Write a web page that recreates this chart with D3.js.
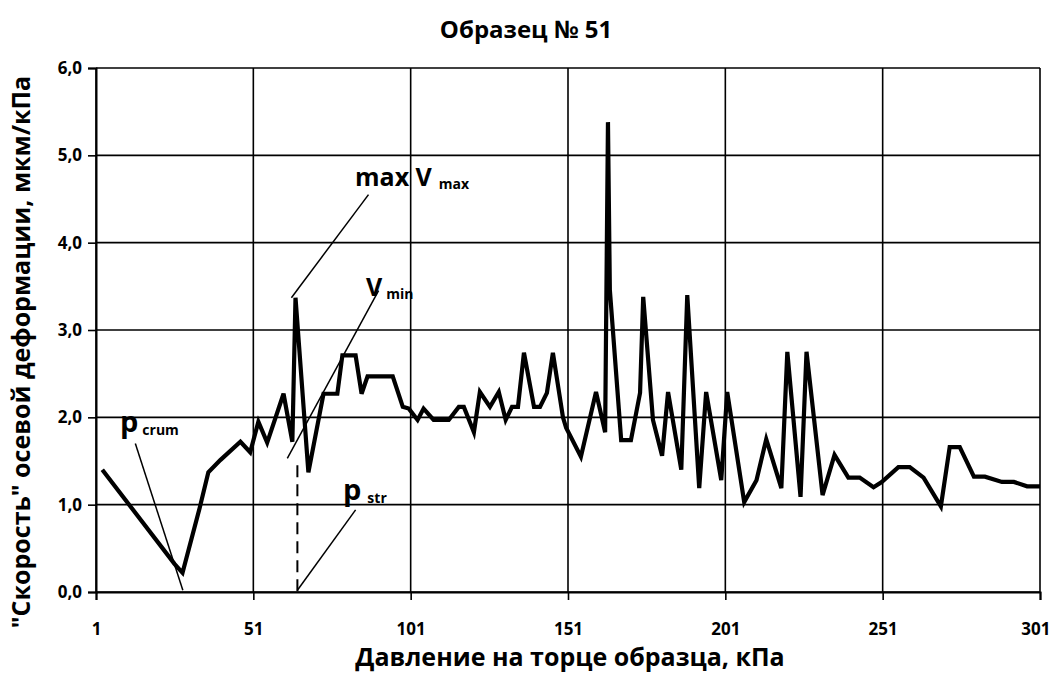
<!DOCTYPE html>
<html>
<head>
<meta charset="utf-8">
<script src="https://cdn.jsdelivr.net/npm/d3@7"></script>
<style>
  body { margin: 0; background: #fff; }
  text { font-family: "Open Sans", sans-serif; font-weight: bold; fill: #000; }
</style>
</head>
<body>
<svg id="chart" width="1052" height="675"></svg>
<script>
// pressure on sample end, kPa
var pressure = [3, 26, 28.5, 34, 36.7, 40.5, 46.9, 50, 52.6, 55.4,
    60.6, 63.4, 64.4, 68.5, 73.3, 77.7, 79.3, 83.5, 85.4, 87.3,
    95.3, 98.5, 100.4, 103.2, 105.1, 108.3, 113.1, 116.3, 117.9, 121.1,
    123, 126.2, 129, 131.2, 133.2, 135.1, 137, 140.2, 142.1, 144.3,
    146.2, 149.4, 150.4, 155.1, 159.9, 162.8, 163.7, 164.3, 167.9, 171,
    173.9, 174.9, 178, 180.9, 182.8, 187, 188.9, 192.7, 194.9, 199.7,
    201.6, 207, 210.9, 214, 218.8, 220.7, 224.9, 226.8, 231.9, 235.7,
    240.1, 243.7, 248.1, 250.7, 256, 259.6, 264, 269.5, 272.3, 275.5,
    280, 283.5, 288.9, 292.7, 296.9, 301];
// "speed" of axial deformation, mkm/kPa
var speed = [1.4, 0.32, 0.22, 0.97, 1.37, 1.51, 1.72, 1.6, 1.95, 1.71,
    2.27, 1.72, 3.37, 1.37, 2.27, 2.27, 2.71, 2.71, 2.27, 2.47,
    2.47, 2.12, 2.1, 1.97, 2.1, 1.97, 1.97, 2.12, 2.12, 1.83,
    2.29, 2.12, 2.29, 1.97, 2.12, 2.12, 2.74, 2.12, 2.12, 2.28,
    2.74, 2.0, 1.88, 1.55, 2.29, 1.83, 5.38, 3.46, 1.74, 1.74,
    2.28, 3.38, 1.97, 1.56, 2.29, 1.4, 3.4, 1.19, 2.29, 1.28,
    2.29, 1.03, 1.28, 1.75, 1.19, 2.75, 1.09, 2.75, 1.11, 1.57,
    1.31, 1.31, 1.2, 1.26, 1.43, 1.43, 1.31, 0.98, 1.66, 1.66,
    1.32, 1.32, 1.26, 1.26, 1.21, 1.21];

var xTicks = [1, 51, 101, 151, 201, 251, 301];
var yTicks = [0, 1, 2, 3, 4, 5, 6];

// leader lines for the annotations, in data units [x1, y1, x2, y2]
var leaderMax = [63.1, 3.37, 87.6, 4.55];
var leaderMin = [61.8, 1.53, 90.8, 3.45];
var leaderCrum = [13.5, 1.70, 28.6, 0.02];
var leaderStr = [65, 0.02, 83.5, 0.94];
var dashStr = [65, 1.45, 65, 0];

var svg = d3.select("#chart");
var margin = {left: 96, right: 12, top: 68, bottom: 83};
var width = 1052 - margin.left - margin.right;
var height = 675 - margin.top - margin.bottom;

var x = d3.scaleLinear().domain([1, 301]).range([0, width]);
var y = d3.scaleLinear().domain([0, 6]).range([height, 0]);

var g = svg.append("g")
    .attr("transform", "translate(" + margin.left + "," + margin.top + ")");

// grid
g.append("g").selectAll("line").data(yTicks).enter().append("line")
    .attr("x1", 0).attr("x2", width)
    .attr("y1", d => y(d)).attr("y2", d => y(d))
    .style("stroke", "#000").style("stroke-width", 1.6);
g.append("g").selectAll("line").data(xTicks).enter().append("line")
    .attr("x1", d => x(d)).attr("x2", d => x(d))
    .attr("y1", 0).attr("y2", height)
    .style("stroke", "#000").style("stroke-width", 1.6);

var fmt = d => d.toFixed(1).replace(".", ",");

var yAxis = g.append("g")
    .call(d3.axisLeft(y).tickValues(yTicks).tickFormat(fmt).tickSize(8).tickPadding(6));
var xAxis = g.append("g")
    .attr("transform", "translate(0," + height + ")")
    .call(d3.axisBottom(x).tickValues(xTicks).tickFormat(d3.format("d")).tickSize(8).tickPadding(22));
[yAxis, xAxis].forEach(function(a) {
    a.attr("font-family", "Open Sans, sans-serif").attr("font-weight", "bold");
    a.select(".domain").style("stroke", "#000").style("stroke-width", 2);
    a.selectAll(".tick line").style("stroke", "#000").style("stroke-width", 1.6);
    a.selectAll(".tick text").style("font-size", "17px");
});
xAxis.selectAll(".tick text").attr("dy", "0.75em")
    .attr("text-anchor", d => d === 301 ? "end" : "middle")
    .attr("x", d => d === 301 ? 10 : 0);

// data line
var line = d3.line().x((d, i) => x(pressure[i])).y(d => y(d));
g.append("path")
    .datum(speed)
    .attr("d", line)
    .style("fill", "none")
    .style("stroke", "#000")
    .style("stroke-width", 4.2)
    .style("stroke-linejoin", "miter");

// annotations
function leader(a, dash) {
    g.append("line")
        .attr("x1", x(a[0])).attr("y1", y(a[1]))
        .attr("x2", x(a[2])).attr("y2", y(a[3]))
        .style("stroke", "#000").style("stroke-width", dash ? 2 : 1.5)
        .style("stroke-dasharray", dash ? "12,7" : null);
}
leader(leaderMax);
leader(leaderMin);
leader(leaderCrum);
leader(leaderStr);
leader(dashStr, true);

function label(px, py, main, sub, size, gap) {
    var t = svg.append("text").attr("x", px).attr("y", py).style("font-size", size + "px");
    t.append("tspan").text(main);
    t.append("tspan").attr("dx", gap).attr("dy", 3).style("font-size", "14px").text(sub);
}
label(355, 186, "max V", "max", 25, 7);
label(366, 296, "V", "min", 25, 4);
label(120, 432, "p", "crum", 29, 4);
label(343, 500, "p", "str", 29, 6);

svg.append("text")
    .attr("x", 526).attr("y", 38)
    .attr("text-anchor", "middle")
    .style("font-size", "24px")
    .text("Образец № 51");

svg.append("text")
    .attr("x", 570).attr("y", 666)
    .attr("text-anchor", "middle")
    .style("font-size", "25px")
    .text("Давление на торце образца, кПа");

svg.append("text")
    .attr("transform", "translate(30,352) rotate(-90)")
    .attr("text-anchor", "middle")
    .style("font-size", "25px")
    .text("\"Скорость\" осевой деформации, мкм/кПа");
</script>
</body>
</html>
